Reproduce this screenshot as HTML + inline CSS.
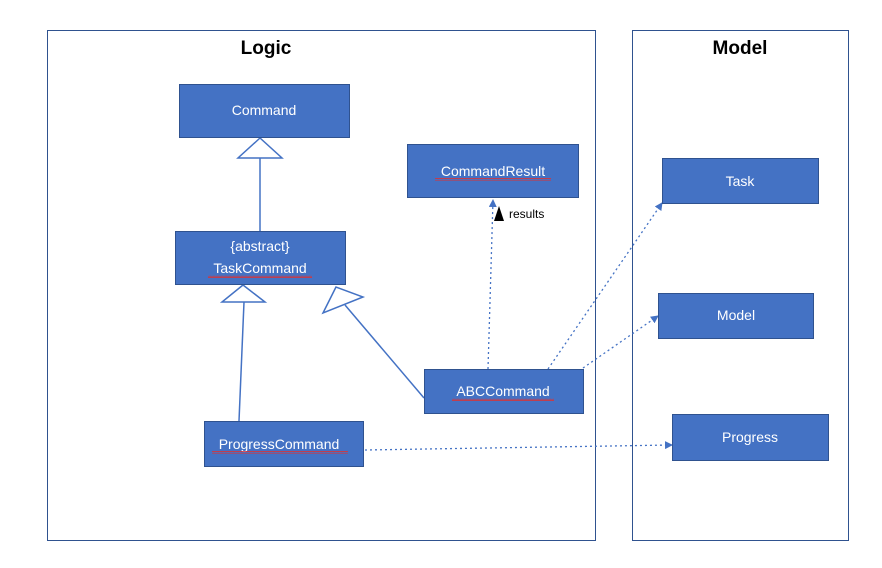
<!DOCTYPE html>
<html><head><meta charset="utf-8"><style>
html,body{margin:0;padding:0;background:#fff;}
svg{display:block;font-family:"Liberation Sans",sans-serif;}
.b{fill:#4472C4;stroke:#2F528F;stroke-width:1;}
.t{fill:#fff;font-size:14px;text-anchor:middle;}
.w{fill:none;stroke:#e03030;stroke-width:1;}
</style></head><body>
<svg width="882" height="568" viewBox="0 0 882 568" xmlns="http://www.w3.org/2000/svg">
<defs>
<marker id="ar" markerWidth="8" markerHeight="8" refX="7" refY="4" orient="auto" markerUnits="userSpaceOnUse">
<path d="M0,0 L8,4 L0,8 z" fill="#4472C4"/></marker>
<pattern id="wv" width="4" height="3" patternUnits="userSpaceOnUse">
<path d="M0,2 L1,0.5 L2,2 L3,0.5 L4,2" fill="none" stroke="#e03030" stroke-width="0.8"/></pattern>
</defs>
<rect x="47.5" y="30.5" width="548" height="510" fill="none" stroke="#2F528F" stroke-width="1"/>
<rect x="632.5" y="30.5" width="216" height="510" fill="none" stroke="#2F528F" stroke-width="1"/>
<text x="266" y="54" font-size="19" font-weight="bold" text-anchor="middle" fill="#000">Logic</text>
<text x="740" y="54" font-size="19" font-weight="bold" text-anchor="middle" fill="#000">Model</text>

<g stroke="#4472C4" stroke-width="1.5" fill="#fff">
<line x1="260" y1="158" x2="260" y2="231"/>
<polygon points="260,138 238,158 282,158"/>
<line x1="244" y1="302" x2="239" y2="421"/>
<polygon points="243,285 222,302 265,302"/>
<line x1="345" y1="305" x2="424" y2="398"/>
<polygon points="336,287 323,313 363,297"/>
</g>
<g stroke="#4472C4" stroke-width="1.3" stroke-dasharray="2,3" fill="none">
<line x1="488" y1="369" x2="493" y2="200" marker-end="url(#ar)"/>
<line x1="548" y1="369" x2="662" y2="203" marker-end="url(#ar)"/>
<line x1="583" y1="368" x2="658" y2="316" marker-end="url(#ar)"/>
<line x1="365" y1="450" x2="672" y2="445" marker-end="url(#ar)"/>
</g>
<polygon points="499,206 494,221 504,221" fill="#000"/>
<text x="509" y="218" font-size="12" fill="#000">results</text>

<rect class="b" x="179.5" y="84.5" width="170" height="53"/>
<text class="t" x="264" y="115">Command</text>
<rect class="b" x="407.5" y="144.5" width="171" height="53"/>
<text class="t" x="493" y="176">CommandResult</text>
<rect x="435" y="178" width="116" height="3" fill="url(#wv)"/>
<rect class="b" x="175.5" y="231.5" width="170" height="53"/>
<text class="t" x="260" y="251">{abstract}</text>
<text class="t" x="260" y="273">TaskCommand</text>
<rect x="208" y="275" width="104" height="3" fill="url(#wv)"/>
<rect class="b" x="424.5" y="369.5" width="159" height="44"/>
<text class="t" x="503" y="396">ABCCommand</text>
<rect x="452" y="398" width="102" height="3" fill="url(#wv)"/>
<rect class="b" x="204.5" y="421.5" width="159" height="45"/>
<text class="t" x="279" y="449">ProgressCommand</text>
<rect x="212" y="451" width="136" height="3" fill="url(#wv)"/>
<rect class="b" x="662.5" y="158.5" width="156" height="45"/>
<text class="t" x="740" y="186">Task</text>
<rect class="b" x="658.5" y="293.5" width="155" height="45"/>
<text class="t" x="736" y="320">Model</text>
<rect class="b" x="672.5" y="414.5" width="156" height="46"/>
<text class="t" x="750" y="442">Progress</text>
</svg>
</body></html>
